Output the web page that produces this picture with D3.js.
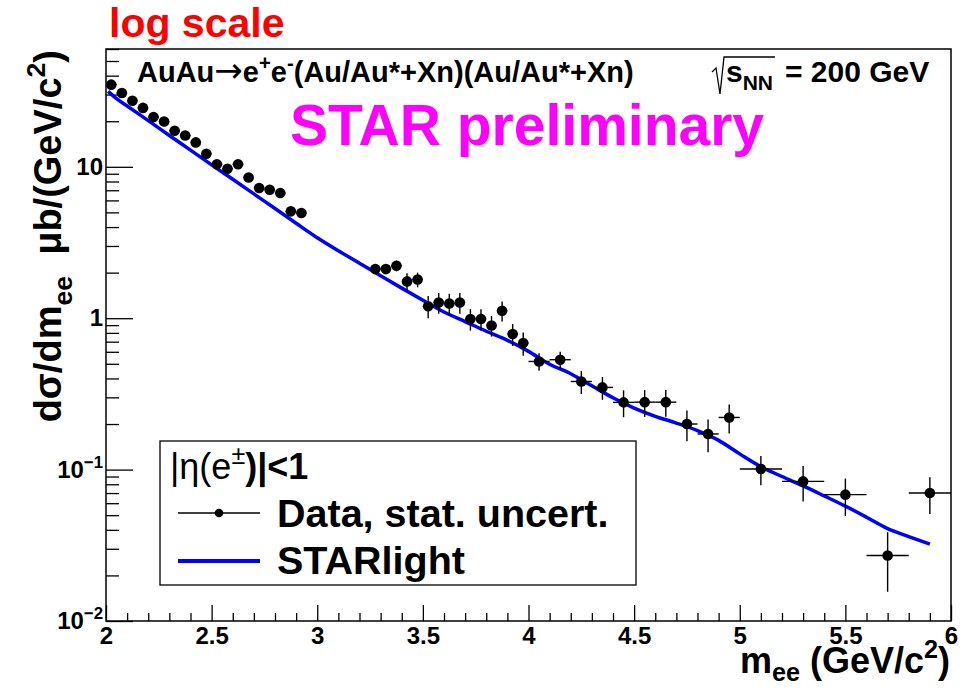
<!DOCTYPE html>
<html><head><meta charset="utf-8">
<script src="https://cdn.jsdelivr.net/npm/d3@7"></script>
<style>
body{margin:0;background:#fff}
svg{display:block}
text{font-family:"Liberation Sans",Arial,Helvetica,sans-serif;font-weight:bold}
</style>
</head><body><svg id="c" width="972" height="690"></svg>
<script>
// ---------- data ----------
const dataMass = [2.025,2.075,2.125,2.175,2.225,2.275,2.325,2.375,2.425,2.475,2.525,2.575,2.625,2.675,2.725,2.775,2.825,2.875,2.925,
  3.275,3.325,3.375,3.425,3.475,3.525,3.575,3.625,3.675,3.725,3.775,3.825,3.875,3.925,3.975,
  4.05,4.15,4.25,4.35,4.45,4.55,4.65,4.75,4.85,4.95,
  5.1,5.3,5.5,5.7,5.9];
const dataMassErr = [0.025,0.025,0.025,0.025,0.025,0.025,0.025,0.025,0.025,0.025,0.025,0.025,0.025,0.025,0.025,0.025,0.025,0.025,0.025,
  0.025,0.025,0.025,0.025,0.025,0.025,0.025,0.025,0.025,0.025,0.025,0.025,0.025,0.025,0.025,
  0.05,0.05,0.05,0.05,0.05,0.05,0.05,0.05,0.05,0.05,
  0.1,0.1,0.1,0.1,0.1];
const dataXsec = [34.9,30.7,27.3,24.5,21.3,19.9,17.3,16.1,14.5,12.2,10.4,9.7,10.4,8.5,7.24,7.06,6.71,5.08,4.95,
  2.11,2.11,2.22,1.75,1.80,1.20,1.27,1.25,1.27,0.988,0.988,0.896,1.12,0.786,0.686,
  0.518,0.532,0.382,0.349,0.278,0.279,0.279,0.200,0.172,0.221,
  0.1009,0.0836,0.0683,0.0271,0.070];
const dataXsecErr = [1.2,1.1,1.0,0.9,0.8,0.8,0.7,0.7,0.6,0.5,0.5,0.45,0.5,0.4,0.35,0.35,0.35,0.3,0.3,
  0.1,0.1,0.18,0.23,0.2,0.2,0.2,0.2,0.2,0.16,0.16,0.14,0.17,0.13,0.12,
  0.068,0.068,0.066,0.06,0.056,0.056,0.056,0.046,0.042,0.048,
  0.022,0.022,0.019,0.0115,0.019];
const starlightMass = [2.01,2.05,2.1,2.2,2.3,2.4,2.5,2.6,2.7,2.8,2.9,3.0,3.1,3.2,3.3,3.4,3.5,3.6,3.7,3.8,3.9,
  4.0,4.1,4.2,4.3,4.4,4.5,4.6,4.7,4.8,4.9,5.0,5.1,5.2,5.3,5.4,5.5,5.6,5.7,5.8,5.9];
const starlightXsec = [31.5,28.2,25.2,20.2,16.1,12.9,10.3,8.27,6.62,5.3,4.24,3.40,2.79,2.31,1.91,1.58,1.315,1.10,0.95,0.82,0.714,
  0.604,0.497,0.43,0.358,0.298,0.255,0.225,0.203,0.181,0.156,0.127,0.1046,0.090,0.078,0.067,0.0574,0.0485,0.0407,0.0361,0.0322];
const xMajorTicks = [2,2.5,3,3.5,4,4.5,5,5.5,6];
const xTickLabels = ["2","2.5","3","3.5","4","4.5","5","5.5","6"];
const yMajorTicks = [0.01,0.1,1,10];
const yTickBase = ["10","10","1","10"];
const yTickExp = ["\u22122","\u22121","",""];

// ---------- setup ----------
const svg = d3.select("#c");
const L = 106, R = 951, T = 49, B = 621;
const x = d3.scaleLinear().domain([2,6]).range([L,R]);
const y = d3.scaleLog().domain([0.01,60]).range([B,T]);

svg.append("rect").attr("width",972).attr("height",690).attr("fill","#fff");
svg.append("defs").append("clipPath").attr("id","clip")
  .append("rect").attr("x",L).attr("y",T).attr("width",R-L).attr("height",B-T);

// rich text helper: parts = [{t, s:'sup'|'sub', w, f}]
function rich(g, px, py, size, parts, anchor, fill, rotate, subOff){
  const t = g.append("text").attr("font-size",size).attr("fill",fill||"#000")
    .attr("text-anchor",anchor||"start");
  if (rotate) t.attr("transform",`translate(${px},${py}) rotate(${rotate})`);
  else t.attr("x",px).attr("y",py);
  let cur = 0;
  parts.forEach(p=>{
    let target = 0, fs = p.fs || size;
    if (p.s==="sup"){ target = -0.42*size; fs = size*0.7; }
    if (p.s==="sub"){ target = (subOff||0.28)*size; fs = size*0.7; }
    const ts = t.append("tspan").attr("dy", target-cur).attr("font-size",fs).text(p.t);
    if (p.w) ts.attr("font-weight",p.w);
    if (p.f) ts.attr("font-family",p.f);
    cur = target;
  });
  return t;
}

// ---------- axes ----------
const xMinor = d3.range(20,61).filter(i=>i%5!==0).map(i=>i/10);
const yMinor = [];
[0.01,0.1,1,10].forEach(d=>{ for(let m=2;m<=9;m++){ const v=m*d; if(v<=60) yMinor.push(v);} });

function styleAxis(g){ g.select(".domain").remove(); g.selectAll("line").attr("stroke","#000").attr("stroke-width",1.3); }

svg.append("g").attr("transform",`translate(0,${B})`)
  .call(d3.axisBottom(x).tickValues(xMinor).tickSize(-8).tickFormat("")).call(styleAxis);
const xMaj = svg.append("g").attr("transform",`translate(0,${B})`)
  .call(d3.axisBottom(x).tickValues(xMajorTicks).tickSize(-16).tickPadding(6)
    .tickFormat((d,i)=>xTickLabels[i])).call(styleAxis);
xMaj.selectAll("text").attr("font-size",24).attr("fill","#000")
  .attr("font-family","'Liberation Sans',Arial,sans-serif").attr("font-weight","bold");

svg.append("g").attr("transform",`translate(${L},0)`)
  .call(d3.axisLeft(y).tickValues(yMinor).tickSize(-13).tickFormat("")).call(styleAxis);
svg.append("g").attr("transform",`translate(${L},0)`)
  .call(d3.axisLeft(y).tickValues(yMajorTicks).tickSize(-27).tickFormat("")).call(styleAxis);

const yl = svg.append("g");
yMajorTicks.forEach((v,i)=>{
  const parts = [{t:yTickBase[i]}];
  if (yTickExp[i]) parts.push({t:yTickExp[i], s:"sup"});
  rich(yl, 103, y(v)+8, 24, parts, "end");
});

// frame
svg.append("rect").attr("x",L).attr("y",T).attr("width",R-L).attr("height",B-T)
  .attr("fill","none").attr("stroke","#000").attr("stroke-width",1.5);

// ---------- STARlight curve ----------
const line = d3.line().x((d,i)=>x(starlightMass[i])).y((d,i)=>y(starlightXsec[i])).curve(d3.curveMonotoneX);
svg.append("path").datum(starlightXsec).attr("d",line).attr("fill","none")
  .attr("stroke","#0000ff").attr("stroke-width",3.5).attr("clip-path","url(#clip)");

// ---------- data points ----------
const pts = svg.append("g").attr("clip-path","url(#clip)");
dataMass.forEach((m,i)=>{
  const v = dataXsec[i], e = dataXsecErr[i], dm = dataMassErr[i];
  pts.append("line").attr("x1",x(m)).attr("x2",x(m)).attr("y1",y(v-e)).attr("y2",y(v+e))
    .attr("stroke","#000").attr("stroke-width",1.4);
  pts.append("line").attr("x1",x(m-dm)).attr("x2",x(m+dm)).attr("y1",y(v)).attr("y2",y(v))
    .attr("stroke","#000").attr("stroke-width",1.4);
  pts.append("circle").attr("cx",x(m)).attr("cy",y(v)).attr("r",5.3).attr("fill","#000");
});

// ---------- texts ----------
svg.append("text").attr("x",109).attr("y",37).attr("font-size",41).attr("fill","#ff0000").text("log scale");

rich(svg, 137, 82, 29, [{t:"AuAu"},{t:"\u2192",f:"'DejaVu Sans'",w:"normal",fs:34},{t:"e"},{t:"+",s:"sup"},{t:"e"},{t:"-",s:"sup"},{t:"(Au/Au*+Xn)(Au/Au*+Xn)"}]);
// sqrt(s_NN)
svg.append("path").attr("d","M712,72 L716,68 L720,94 L724,57 L775,57")
  .attr("fill","none").attr("stroke","#000").attr("stroke-width",1.3);
rich(svg, 726, 82, 30, [{t:"s"},{t:"NN",s:"sub"}]);
svg.append("text").attr("x",785).attr("y",82).attr("font-size",30).text("= 200 GeV");

svg.append("text").attr("x",290).attr("y",145).attr("font-size",57).attr("fill","#ff00ff").text("STAR preliminary");

// axis titles
rich(svg, 61, 50, 38, [{t:"d\u03c3/dm"},{t:"ee",s:"sub"},{t:"\u00a0\u00a0\u03bcb/(GeV/c"},{t:"2",s:"sup"},{t:")"}], "end", "#000", -90);
rich(svg, 950, 673, 36, [{t:"m"},{t:"ee",s:"sub"},{t:" (GeV/c"},{t:"2",s:"sup"},{t:")"}], "end", "#000", null, 0.22);

// ---------- legend ----------
const lg = svg.append("g");
lg.append("rect").attr("x",160).attr("y",441).attr("width",476).attr("height",144)
  .attr("fill","#fff").attr("stroke","#000").attr("stroke-width",1.3);
rich(lg, 170, 479, 36, [{t:"|\u03b7(e",w:"normal"},{t:"\u00b1",s:"sup",w:"normal"},{t:")|<1"}]);
lg.append("line").attr("x1",178).attr("x2",260).attr("y1",513).attr("y2",513).attr("stroke","#000").attr("stroke-width",1.3);
lg.append("circle").attr("cx",219).attr("cy",513).attr("r",4.3).attr("fill","#000");
lg.append("text").attr("x",277).attr("y",527).attr("font-size",39.5).text("Data, stat. uncert.");
lg.append("line").attr("x1",178).attr("x2",260).attr("y1",561).attr("y2",561).attr("stroke","#0000ff").attr("stroke-width",4);
lg.append("text").attr("x",277).attr("y",574).attr("font-size",39.5).text("STARlight");
</script>
</body></html>
